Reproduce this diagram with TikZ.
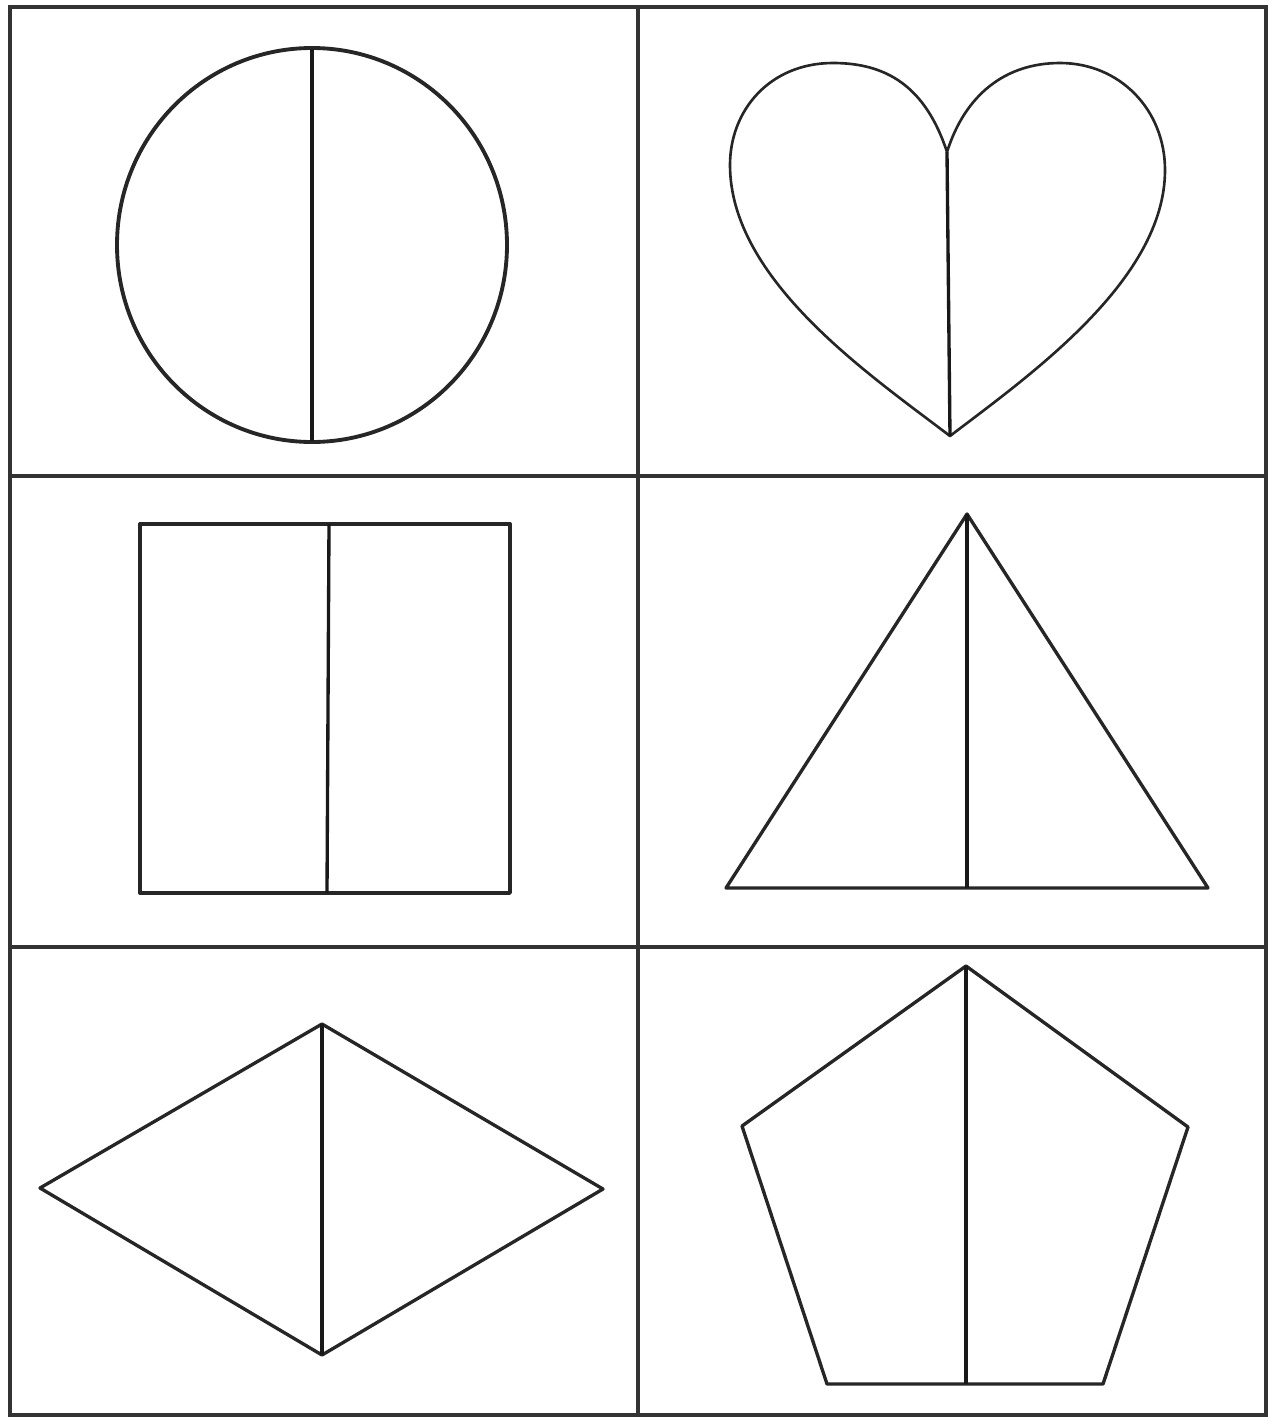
\documentclass[tikz,border=0pt]{standalone}
\usepackage{tikz}

\begin{document}
\begin{tikzpicture}[
    x = 0.02cm, y = -0.02cm,
    grid/.style    = {draw=black!80, line width=2.5pt},
    outline/.style = {draw=black!85, line width=1.9pt, line join=round},
    half/.style    = {draw=black!90, line width=1.9pt}
  ]
  \useasboundingbox (0,0) rectangle (1270,1417);

  % grid of six cells
  \draw[grid] (10,7) rectangle (1266,1415);
  \draw[grid] (638,7)  -- (638,1415);
  \draw[grid] (10,476) -- (1266,476);
  \draw[grid] (10,947) -- (1266,947);

  % circle
  \draw[outline, line width=2.2pt] (312,245) ellipse [x radius=195, y radius=197];
  \draw[half, line width=2.2pt] (312,49) -- (312,441);

  % heart
  \draw[outline, line width=1.5pt] (947,152)
    .. controls (925,85) and (885,63) .. (833,63)
    .. controls (770,63) and (730,110) .. (730,165)
    .. controls (730,280) and (870,375) .. (950,436)
    .. controls (1030,375) and (1165,280) .. (1165,170)
    .. controls (1165,110) and (1120,63) .. (1060,63)
    .. controls (1005,63) and (965,95) .. cycle;
  \draw[half] (947,152) -- (950,436);

  % rectangle
  \draw[outline] (140,524) rectangle (510,893);
  \draw[half] (329,524) -- (327,893);

  % triangle
  \draw[outline] (967,514) -- (1208,888) -- (726,888) -- cycle;
  \draw[half] (967,514) -- (967,888);

  % rhombus
  \draw[outline] (40,1188) -- (322,1024) -- (603,1189) -- (322,1355) -- cycle;
  \draw[half] (322,1024) -- (322,1355);

  % pentagon
  \draw[outline] (966,966) -- (1188,1127) -- (1103,1384) -- (827,1384) -- (742,1126) -- cycle;
  \draw[half] (966,966) -- (966,1384);
\end{tikzpicture}
\end{document}
